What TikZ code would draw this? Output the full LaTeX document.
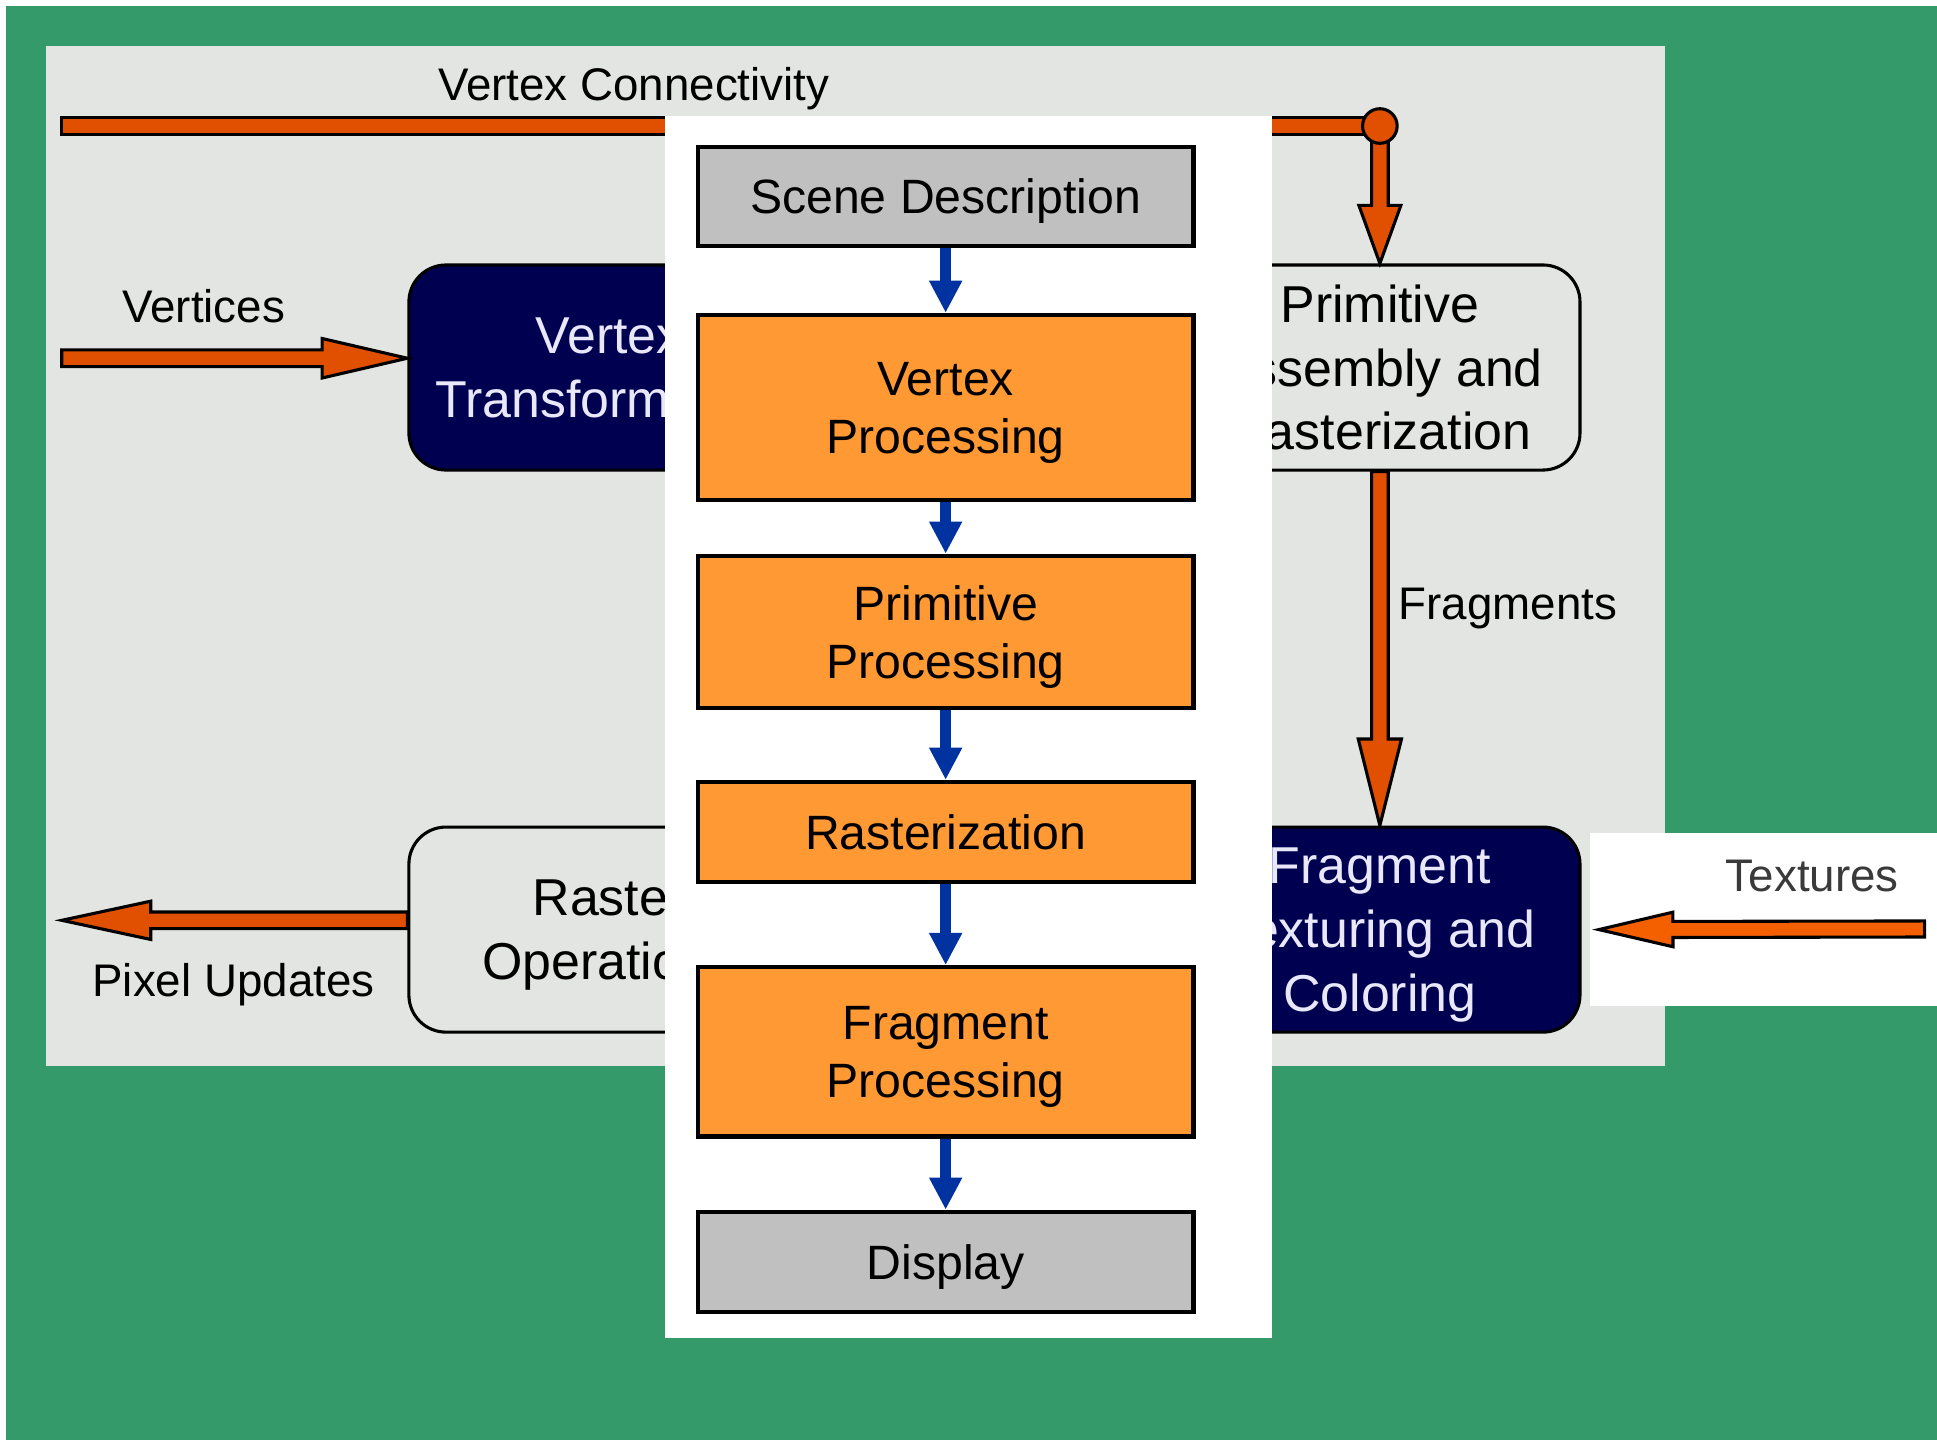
\documentclass[tikz,border=0pt]{standalone}
\usepackage{fontspec}
\setmainfont{Liberation Sans}
\usetikzlibrary{calc,arrows.meta}

\definecolor{bggreen}{HTML}{359A69}
\definecolor{panelgrey}{HTML}{E3E5E2}
\definecolor{navy}{HTML}{000050}
\definecolor{navytext}{HTML}{E8E8FA}
\definecolor{flowred}{HTML}{E05000}
\definecolor{texorange}{HTML}{F46000}
\definecolor{stageorange}{HTML}{FF9933}
\definecolor{stagegrey}{HTML}{C0C0C0}
\definecolor{flowblue}{HTML}{0033A0}
\definecolor{labelgrey}{HTML}{3A3A3A}

% Block arrow: style, start, end, shaft half width, head length, head half width
\newcommand\blockarrow[6]{%
  \path (#2) coordinate (ba-s) (#3) coordinate (ba-e);
  \path ($(ba-e)!#5!(ba-s)$) coordinate (ba-h);
  \draw[#1] ($(ba-s)!#4!90:(ba-e)$) -- ($(ba-h)!#4!90:(ba-e)$)
    -- ($(ba-h)!#6!90:(ba-e)$) -- (ba-e) -- ($(ba-h)!#6!-90:(ba-e)$)
    -- ($(ba-h)!#4!-90:(ba-e)$) -- ($(ba-s)!#4!-90:(ba-e)$) -- cycle;
}

\tikzset{
  stage/.style={draw=black, line width=3.5pt, minimum width=401pt,
    align=center, inner sep=0pt, text depth=0pt,
    font=\fontsize{39}{47}\selectfont},
  orangestage/.style={stage, fill=stageorange},
  greystage/.style={stage, fill=stagegrey},
  unit/.style={draw=black, line width=2.5pt, rounded corners=30pt,
    minimum width=324pt, minimum height=166pt, align=center, inner sep=0pt,
    text depth=0pt, font=\fontsize{42}{51.5}\selectfont},
  darkunit/.style={unit, fill=navy, text=navytext},
  lightunit/.style={unit, fill=panelgrey, text=black},
  flowlabel/.style={font=\fontsize{37}{44}\selectfont, inner sep=0pt,
    text depth=0pt},
  redflow/.style={draw=black, line width=2.5pt, fill=flowred, line join=miter},
  texflow/.style={draw=black, line width=2.5pt, fill=texorange, line join=miter},
  blueflow/.style={draw=flowblue, line width=9pt,
    -{Triangle[length=26pt,width=25pt]}},
}

\begin{document}
\begin{tikzpicture}[x=1pt, y=-1pt]
  \useasboundingbox (0,0) rectangle (1568,1166);
  % backdrop layers
  \fill[white] (0,0) rectangle (1568,1166);
  \fill[bggreen] (5,5) rectangle (1568,1166);
  \fill[panelgrey] (37,37) rectangle (1348,863);
  \fill[white] (1287,674) rectangle (1568,814);

  % fixed-function units
  \node[darkunit] (vt) at (493,297.5) {Vertex\\Transformation};
  \node[lightunit] (pa) at (1117,297.5) {Primitive\\Assembly and\\Rasterization};
  \node[darkunit] (ft) at (1117,752.5) {Fragment\\Texturing and\\Coloring};
  \node[lightunit] (ro) at (493,752.5) {Raster\\Operations};

  % free ends of the data flows
  \coordinate (vcs) at (50,102);
  \coordinate (vcj) at (pa.north |- vcs);
  \coordinate (vin) at (50,290);
  \coordinate (pout) at (50,745);
  \coordinate (tin) at (1558,752);
  \coordinate (tend) at ($(ft.east)+(14,0)$);

  % vertex connectivity bus
  \draw[redflow] ($(vcs)+(0,-7)$) rectangle ($(vcj)+(0,7)$);
  \blockarrow{redflow}{vcj}{pa.north}{6.75pt}{47pt}{17pt}
  \draw[redflow] (vcj) circle[radius=14pt];

  % vertices in, fragments down, pixel updates out, textures in
  \blockarrow{redflow}{vin}{vt.west |- vin}{6.75pt}{69pt}{16pt}
  \blockarrow{redflow}{pa.south}{ft.north}{6.75pt}{70pt}{17.5pt}
  \blockarrow{redflow}{ro.west |- pout}{pout}{6.75pt}{72pt}{15.5pt}
  \blockarrow{texflow}{tin}{tend}{6.5pt}{60pt}{14pt}

  % flow labels
  \node[flowlabel] (lvc) at (513,68) {Vertex Connectivity};
  \node[flowlabel] (lvi) at (165,248) {Vertices};
  \node[flowlabel] (lpu) at (189,793) {Pixel Updates};
  \node[flowlabel, anchor=west] (lfr) at (1132,489) {Fragments};
  \node[flowlabel, text=labelgrey] (ltx) at (1467,709) {Textures};

  % overview column
  \fill[white] (538,94) rectangle (1030,1083);
  \node[greystage, minimum height=80pt] (sd) at (765.5,159) {Scene Description};
  \node[orangestage, minimum height=150pt] (vp) at (765.5,330) {Vertex\\Processing};
  \node[orangestage, minimum height=123pt] (pp) at (765.5,511.5) {Primitive\\Processing};
  \node[orangestage, minimum height=81pt] (rz) at (765.5,673.5) {Rasterization};
  \node[orangestage, minimum height=137pt] (fp) at (765.5,851.5) {Fragment\\Processing};
  \node[greystage, minimum height=81pt] (dp) at (765.5,1021.5) {Display};

  \draw[blueflow] (sd.south) -- (vp.north);
  \draw[blueflow] (vp.south) -- (pp.north);
  \draw[blueflow] (pp.south) -- (rz.north);
  \draw[blueflow] (rz.south) -- (fp.north);
  \draw[blueflow] (fp.south) -- (dp.north);
\end{tikzpicture}
\end{document}
